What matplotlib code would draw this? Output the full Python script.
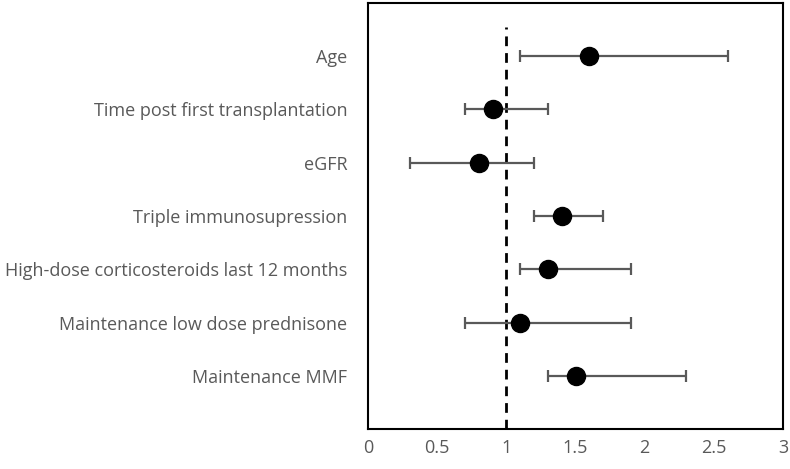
import matplotlib.pyplot as plt

# --- Data ---
labels = ['Age', 'Time post first transplantation', 'eGFR', 'Triple immunosupression',
          'High-dose corticosteroids last 12 months', 'Maintenance low dose prednisone',
          'Maintenance MMF']
estimate = [1.6, 0.9, 0.8, 1.4, 1.3, 1.1, 1.5]
lower = [1.1, 0.7, 0.3, 1.2, 1.1, 0.7, 1.3]
upper = [2.6, 1.3, 1.2, 1.7, 1.9, 1.9, 2.3]
xticks = [0, 0.5, 1, 1.5, 2, 2.5, 3]
xtick_labels = ['0', '0.5', '1', '1.5', '2', '2.5', '3']

plt.rcParams['font.family'] = ['Open Sans', 'DejaVu Sans']
grey = '#595959'

fig = plt.figure(figsize=(7.9, 4.69), dpi=100)
ax = fig.add_axes([368 / 790, 1 - 429 / 469, 415 / 790, 426 / 469])

ypos = list(range(1, len(labels) + 1))
err = [[e - l for e, l in zip(estimate, lower)], [u - e for e, u in zip(estimate, upper)]]

ax.axvline(1, ymin=0, ymax=1 - 0.45 / 8, color='black', linestyle=(0, (3.5, 2.5)), lw=2, zorder=1)
ax.errorbar(estimate, ypos, xerr=err, fmt='none', ecolor=grey, elinewidth=1.6,
            capsize=4, capthick=1.6, zorder=2)
ax.plot(estimate, ypos, 'o', color='black', markersize=13, zorder=3)

ax.set_xlim(0, 3)
ax.set_ylim(len(labels) + 1, 0)
ax.set_yticks(ypos)
ax.set_yticklabels(labels)
ax.set_xticks(xticks)
ax.set_xticklabels(xtick_labels)
ax.tick_params(axis='both', length=0, labelsize=13, labelcolor=grey)
ax.tick_params(axis='y', pad=15)
ax.tick_params(axis='x', pad=7)
for s in ax.spines.values():
    s.set_linewidth(1.5)
    s.set_color('black')

fig.savefig('out.png', dpi=100)
